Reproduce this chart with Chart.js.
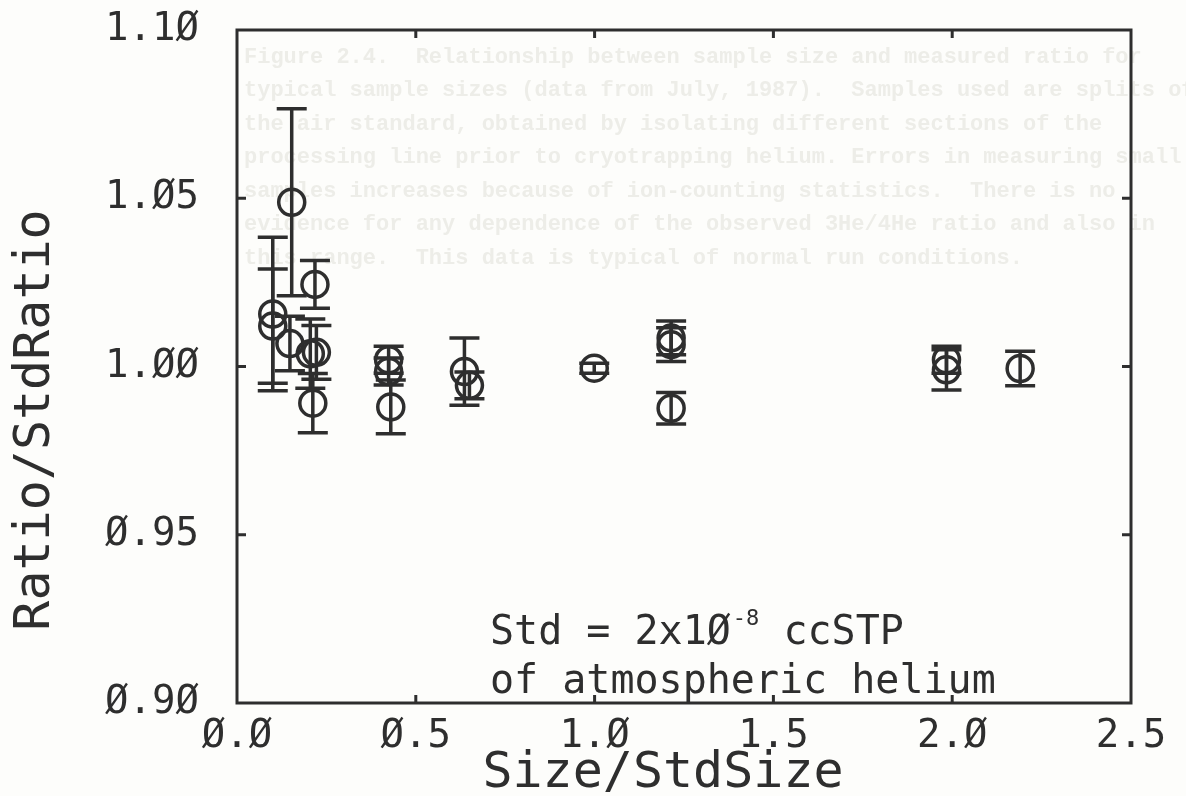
<!DOCTYPE html>
<html>
<head>
<meta charset="utf-8">
<script src="https://cdn.jsdelivr.net/npm/chart.js@4.4.1/dist/chart.umd.min.js"></script>
<style>
  html, body { margin: 0; padding: 0; background: #fdfdfb; }
  #wrap { width: 1186px; height: 796px; position: relative; }
</style>
</head>
<body>
<div id="wrap"><canvas id="ratioChart"></canvas></div>
<script>
// sample size (in units of the standard) vs measured ratio, with 1-sigma errors
const sizes  = [0.100, 0.100, 0.153, 0.148, 0.218, 0.205, 0.222, 0.212, 0.424, 0.424, 0.430, 0.636, 0.650, 0.999, 1.214, 1.214, 1.214, 1.984, 1.984, 2.190];
const ratios = [1.0156, 1.0120, 1.0488, 1.0068, 1.0244, 1.0038, 1.0042, 0.9891, 1.0020, 0.9985, 0.9880, 0.9985, 0.9944, 0.9995, 1.0085, 1.0065, 0.9876, 1.0020, 0.9990, 0.9994];
const errors = [0.0228, 0.0170, 0.0278, 0.0081, 0.0071, 0.0103, 0.0080, 0.0088, 0.0040, 0.0040, 0.0080, 0.0100, 0.0040, 0.0015, 0.0050, 0.0050, 0.0047, 0.0040, 0.0060, 0.0051];

const xTicks = [0, 0.5, 1.0, 1.5, 2.0, 2.5];
const xTickLabels = ['Ø.Ø', 'Ø.5', '1.Ø', '1.5', '2.Ø', '2.5'];
const yTicks = [0.90, 0.95, 1.00, 1.05, 1.10];
const yTickLabels = ['Ø.9Ø', 'Ø.95', '1.ØØ', '1.Ø5', '1.1Ø'];

const captionLines = [
    'Figure 2.4.  Relationship between sample size and measured ratio for',
    'typical sample sizes (data from July, 1987).  Samples used are splits of',
    'the air standard, obtained by isolating different sections of the',
    'processing line prior to cryotrapping helium. Errors in measuring small',
    'samples increases because of ion-counting statistics.  There is no',
    'evidence for any dependence of the observed 3He/4He ratio and also in',
    'this range.  This data is typical of normal run conditions.'
];

const ink = '#2e2e2e';
const mono = '"DejaVu Sans Mono", monospace';

// faint show-through text of the scanned page
const bleedText = {
    id: 'bleedText',
    beforeDraw(chart) {
        const ctx = chart.ctx;
        ctx.save();
        ctx.fillStyle = '#ededE8';
        ctx.font = 'bold 22px "Liberation Mono", monospace';
        ctx.textBaseline = 'middle';
        captionLines.forEach((line, i) => {
            ctx.fillText(line, 244, 57 + i * 33.5);
        });
        ctx.restore();
    }
};

const errorBars = {
    id: 'errorBars',
    beforeDatasetsDraw(chart) {
        const ctx = chart.ctx;
        const xs = chart.scales.x, ys = chart.scales.y;
        ctx.save();
        ctx.strokeStyle = ink;
        ctx.lineWidth = 3.5;
        sizes.forEach((s, i) => {
            const px = xs.getPixelForValue(s);
            const top = ys.getPixelForValue(ratios[i] + errors[i]);
            const bot = ys.getPixelForValue(ratios[i] - errors[i]);
            ctx.beginPath();
            ctx.moveTo(px, top); ctx.lineTo(px, bot);
            ctx.moveTo(px - 15, top); ctx.lineTo(px + 15, top);
            ctx.moveTo(px - 15, bot); ctx.lineTo(px + 15, bot);
            ctx.stroke();
        });
        ctx.restore();
    }
};

const frameAndNotes = {
    id: 'frameAndNotes',
    afterDraw(chart) {
        const ctx = chart.ctx;
        const a = chart.chartArea;
        const xs = chart.scales.x, ys = chart.scales.y;
        ctx.save();
        ctx.strokeStyle = ink;
        ctx.lineWidth = 3;
        ctx.strokeRect(a.left, a.top, a.right - a.left, a.bottom - a.top);
        // inward ticks on all four sides
        ctx.beginPath();
        xTicks.slice(1, -1).forEach(v => {
            const p = xs.getPixelForValue(v);
            ctx.moveTo(p, a.bottom); ctx.lineTo(p, a.bottom - 8);
            ctx.moveTo(p, a.top); ctx.lineTo(p, a.top + 8);
        });
        yTicks.slice(1, -1).forEach(v => {
            const p = ys.getPixelForValue(v);
            ctx.moveTo(a.left, p); ctx.lineTo(a.left + 9, p);
            ctx.moveTo(a.right, p); ctx.lineTo(a.right - 9, p);
        });
        ctx.stroke();

        ctx.fillStyle = ink;
        ctx.textBaseline = 'middle';

        // axis titles
        ctx.font = '50px ' + mono;
        ctx.textAlign = 'center';
        ctx.fillText('Size/StdSize', 663, 774);
        ctx.save();
        ctx.translate(36, 420);
        ctx.rotate(-Math.PI / 2);
        ctx.fillText('Ratio/StdRatio', 0, 0);
        ctx.restore();

        // note inside the plot
        ctx.textAlign = 'left';
        ctx.font = '40px ' + mono;
        let x = 490;
        const t1 = 'Std = 2x1Ø';
        ctx.fillText(t1, x, 634);
        x += ctx.measureText(t1).width + 2;
        ctx.font = '22px ' + mono;
        ctx.fillText('-8', x, 619);
        x += ctx.measureText('-8').width;
        ctx.font = '40px ' + mono;
        ctx.fillText(' ccSTP', x, 634);
        ctx.fillText('of atmospheric helium', 490, 683);
        ctx.restore();
    }
};

new Chart(document.getElementById('ratioChart').getContext('2d'), {
    type: 'scatter',
    data: {
        datasets: [{
            data: sizes.map((s, i) => ({ x: s, y: ratios[i] })),
            pointStyle: 'circle',
            pointRadius: 13,
            pointHoverRadius: 13,
            borderWidth: 3.5,
            borderColor: ink,
            backgroundColor: 'rgba(0,0,0,0)',
            showLine: false
        }]
    },
    options: {
        responsive: true,
        maintainAspectRatio: false,
        animation: false,
        events: [],
        layout: { padding: { top: 30, right: 55, left: 0, bottom: 0 } },
        plugins: {
            legend: { display: false },
            tooltip: { enabled: false }
        },
        scales: {
            x: {
                type: 'linear',
                min: 0,
                max: 2.5,
                afterBuildTicks: scale => { scale.ticks = xTicks.map(v => ({ value: v })); },
                afterFit: scale => { scale.height = 93; },
                grid: { display: false },
                border: { display: false },
                ticks: {
                    color: ink,
                    font: { family: mono, size: 39 },
                    padding: 2,
                    maxRotation: 0,
                    autoSkip: false,
                    callback: (v, i) => xTickLabels[i]
                },
                title: { display: false }
            },
            y: {
                type: 'linear',
                min: 0.9,
                max: 1.1,
                afterBuildTicks: scale => { scale.ticks = yTicks.map(v => ({ value: v })); },
                afterFit: scale => {
                    scale.width = 237;
                    scale.paddingTop = 0;
                    scale.paddingBottom = 0;
                },
                grid: { display: false },
                border: { display: false },
                ticks: {
                    color: ink,
                    font: { family: mono, size: 39 },
                    padding: 30,
                    autoSkip: false,
                    callback: (v, i) => yTickLabels[i]
                },
                title: { display: false }
            }
        }
    },
    plugins: [bleedText, errorBars, frameAndNotes]
});
</script>
</body>
</html>
